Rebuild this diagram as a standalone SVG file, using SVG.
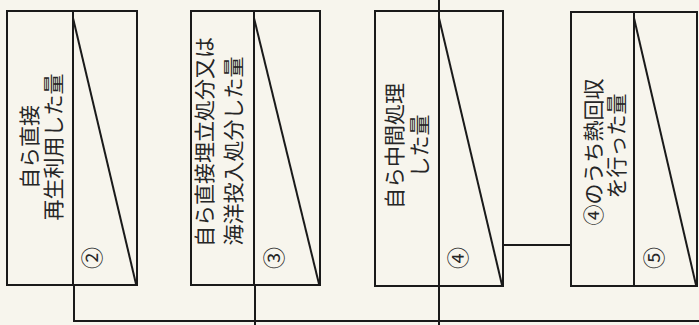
<svg xmlns="http://www.w3.org/2000/svg" width="699" height="325" viewBox="0 0 699 325">
<style>
.box{fill:none;stroke:#1a1a1a;stroke-width:2}
.ln{fill:none;stroke:#1a1a1a;stroke-width:2}
.t{font-family:"Noto Sans CJK JP","Noto Sans CJK SC",sans-serif;font-size:21px;fill:#262626;text-anchor:middle;dominant-baseline:central}
.n{font-family:"Noto Sans CJK JP","Noto Sans CJK SC",sans-serif;font-size:22px;fill:#262626;text-anchor:middle;dominant-baseline:central}
</style>
<rect x="0" y="0" width="699" height="325" fill="#f7f5ed"/>
<g id="connectors">
<polyline class="ln" points="74,285 74,321 699,321"/>
<line class="ln" x1="255" y1="285" x2="255" y2="325"/>
<line class="ln" x1="439" y1="0" x2="439" y2="325"/>
<line class="ln" x1="503" y1="245" x2="571" y2="245"/>
</g>
<g id="node2">
<rect class="box" x="7" y="11" width="130" height="274"/>
<line class="ln" x1="73" y1="11" x2="73" y2="285"/>
<line class="ln" x1="73" y1="18" x2="136" y2="284"/>
<text class="t" transform="translate(28,147) rotate(-90)">自ら直接</text>
<text class="t" transform="translate(52,147) rotate(-90)">再生利用した量</text>
<text class="n" transform="translate(90,258) rotate(-90)">②</text>
</g>
<g id="node3">
<rect class="box" x="191" y="11" width="129" height="274"/>
<line class="ln" x1="254" y1="11" x2="254" y2="285"/>
<line class="ln" x1="254" y1="18" x2="319" y2="284"/>
<text class="t" transform="translate(203,142) rotate(-90)">自ら直接埋立処分又は</text>
<text class="t" transform="translate(232,151) rotate(-90)">海洋投入処分した量</text>
<text class="n" transform="translate(272,258) rotate(-90)">③</text>
</g>
<g id="node4">
<rect class="box" x="375" y="11" width="128" height="275"/>
<line class="ln" x1="439" y1="18" x2="502" y2="285"/>
<text class="t" transform="translate(393,146) rotate(-90)">自ら中間処理</text>
<text class="t" transform="translate(418,146) rotate(-90)">した量</text>
<text class="n" transform="translate(456,258) rotate(-90)">④</text>
</g>
<g id="node5">
<rect class="box" x="571" y="12" width="126" height="274"/>
<line class="ln" x1="634" y1="12" x2="634" y2="286"/>
<line class="ln" x1="634" y1="18" x2="696" y2="285"/>
<text class="t" transform="translate(592,152) rotate(-90)">④のうち熱回収</text>
<text class="t" transform="translate(615,146) rotate(-90)">を行った量</text>
<text class="n" transform="translate(652,258) rotate(-90)">⑤</text>
</g>
</svg>
